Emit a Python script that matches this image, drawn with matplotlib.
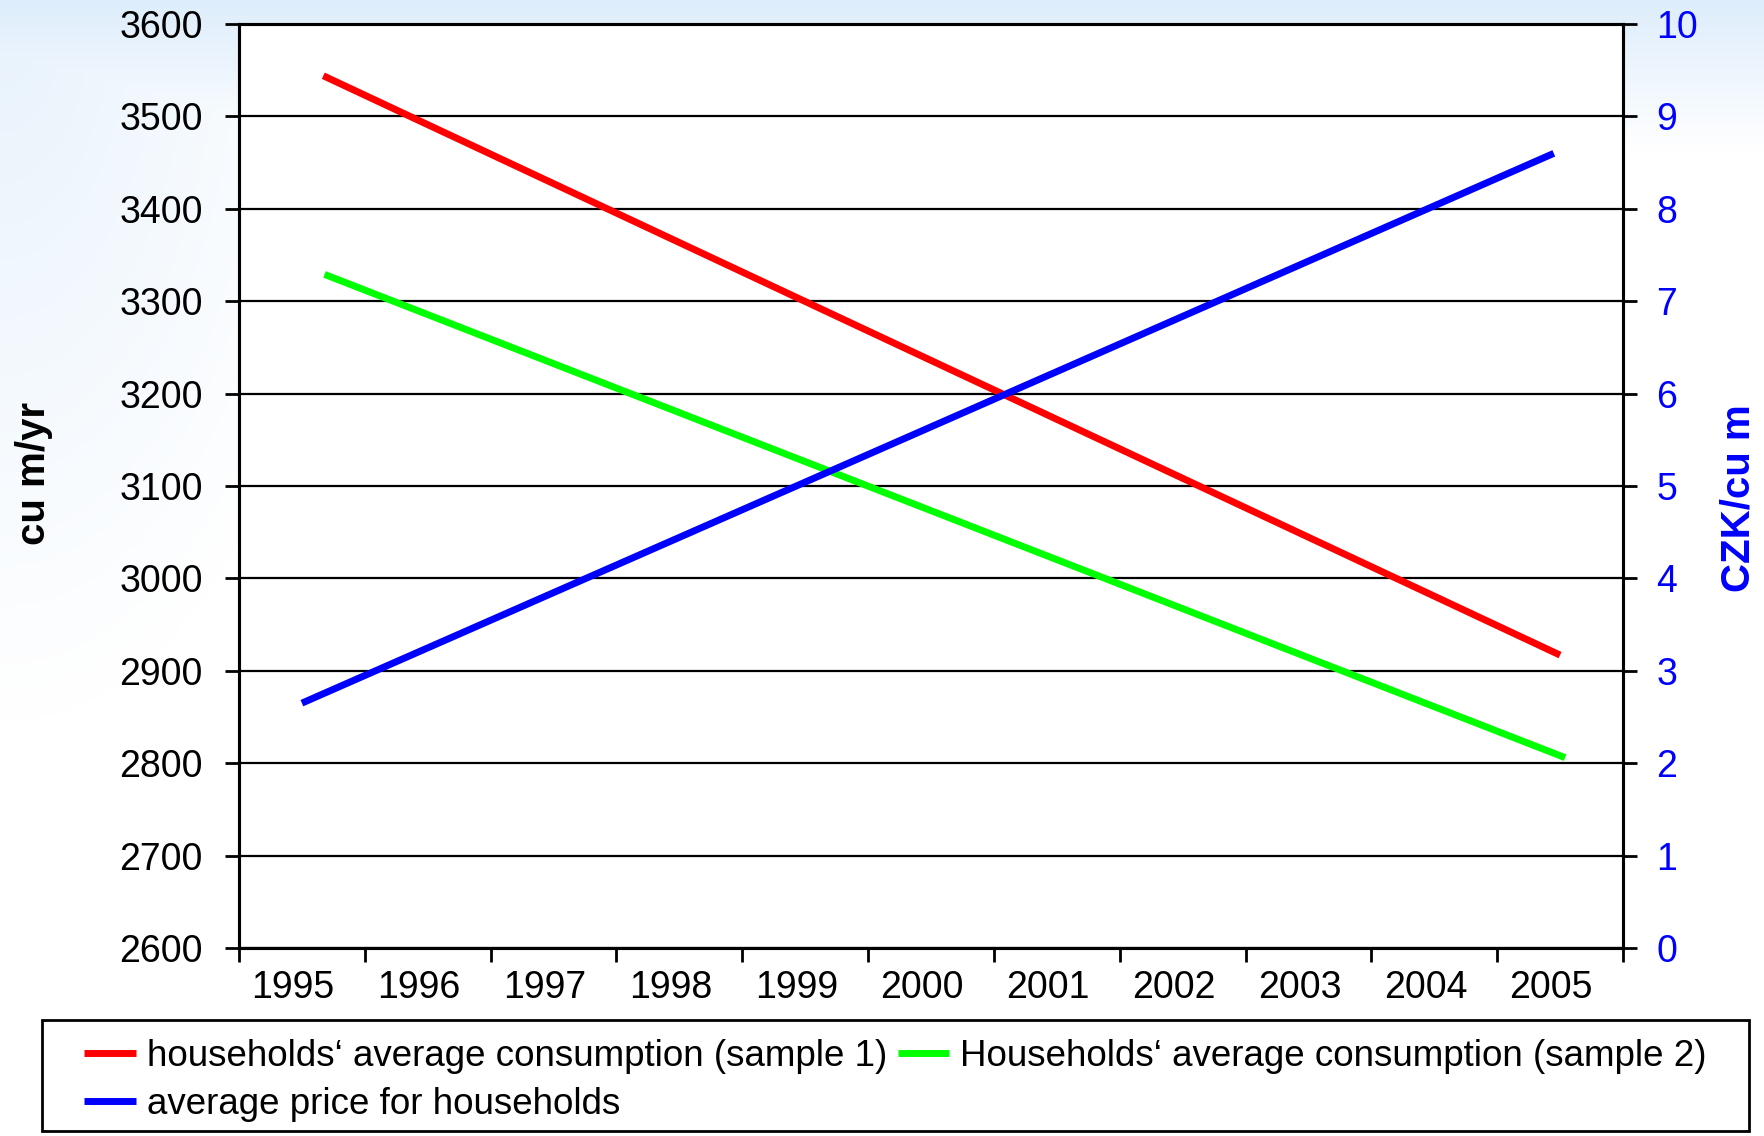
import numpy as np
import matplotlib.pyplot as plt
from matplotlib.patches import Rectangle

plt.rcParams['font.family'] = ['Liberation Sans', 'DejaVu Sans']

years = list(range(1995, 2006))
year_labels = [str(y) for y in years]

# line end points (year position, value)
sample1_x = [1995.17, 2005.0]
sample1_y = [3544, 2917]
sample2_x = [1995.18, 2005.04]
sample2_y = [3329, 2806]
price_x = [1995.0, 2004.95]
price_y = [2.65, 8.60]

labels = ['households\u2018 average consumption (sample 1)',
          'average price for households',
          'Households\u2018 average consumption (sample 2)']

W, H = 1764, 1136
fig = plt.figure(figsize=(W / 100, H / 100), dpi=100)

# light blue slide background fading to white
bg = fig.add_axes([0, 0, 1, 1], zorder=-10)
yy, xx = np.mgrid[0:H:4, 0:W:4]
t = np.clip(np.maximum(1 - yy / 150.0, 0.7 * (1 - np.hypot(xx / 1.0, yy / 2.0) / 360.0)), 0, 1)
top = np.array([0.87, 0.93, 0.985])
img = 1 - (1 - top)[None, None, :] * t[:, :, None]
bg.imshow(img, aspect='auto', extent=[0, 1, 0, 1])
bg.axis('off')

ax = fig.add_axes([239 / W, 1 - 948 / H, (1623 - 239) / W, (948 - 24) / H])
ax.set_facecolor('white')
ax2 = ax.twinx()

l1, = ax.plot(np.array(sample1_x) - 1995, sample1_y, color='#ff0000', lw=5, solid_capstyle='butt')
l3, = ax.plot(np.array(sample2_x) - 1995, sample2_y, color='#00ff00', lw=5, solid_capstyle='butt')
l2, = ax2.plot(np.array(price_x) - 1995, price_y, color='#0000ff', lw=5, solid_capstyle='butt')

ax.set_xlim(-0.5, 10.5)
ax.set_ylim(2600, 3600)
ax.set_yticks(np.arange(2600, 3601, 100))
ax.set_xticks(np.arange(11) - 0.07)
ax.set_xticklabels(year_labels)
ax.set_xticks(np.arange(-0.5, 11, 1), minor=True)
ax.tick_params(axis='x', which='major', length=0, labelsize=27, pad=16)
ax.tick_params(axis='x', which='minor', length=10, width=2, direction='out')
ax.tick_params(axis='y', length=10, width=2, labelsize=27, pad=16)
ax.grid(axis='y', color='black', lw=1.6)

ax2.set_ylim(0, 10)
ax2.set_yticks(np.arange(0, 11, 1))
ax2.tick_params(axis='y', length=10, width=2, labelsize=27, pad=14, colors='#0000ff')
ax2.tick_params(axis='y', color='black')

for a in (ax, ax2):
    for s in a.spines.values():
        s.set_linewidth(2.2)
        s.set_color('black')

fig.text(34 / W, 1 - 474 / H, 'cu m/yr', rotation=90, fontsize=29, fontweight='bold',
         ha='center', va='center')
fig.text(1738 / W, 1 - 498 / H, 'CZK/cu m', rotation=90, fontsize=29, fontweight='bold',
         ha='center', va='center', color='#0000ff')

fig.legend(handles=[l1, l2, l3], labels=labels, ncol=2, loc='upper left',
           bbox_to_anchor=(84 / W, 1 - 1039 / H), frameon=False, fontsize=26.5,
           handlelength=1.4, handletextpad=0.3, columnspacing=0.3,
           labelspacing=0.35, borderpad=0, borderaxespad=0)
fig.add_artist(Rectangle((42 / W, 1 - 1131 / H), 1707 / W, 111 / H, transform=fig.transFigure,
                         fill=False, ec='black', lw=2))

fig.savefig('out.png', dpi=100)
